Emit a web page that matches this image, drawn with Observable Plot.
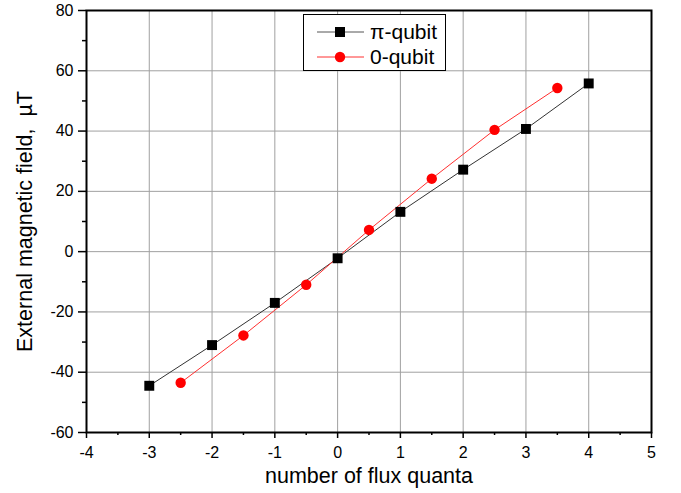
<!DOCTYPE html>
<html>
<head>
<meta charset="utf-8">
<script src="https://cdn.jsdelivr.net/npm/d3@7"></script>
<script src="https://cdn.jsdelivr.net/npm/@observablehq/plot@0.6"></script>
<style>
  html, body { margin: 0; padding: 0; background: white; }
  #wrap { position: relative; width: 681px; height: 493px; font-family: "Liberation Sans", Arial, sans-serif; }
  #legend { position: absolute; left: 303px; top: 14px; width: 143px; height: 57px; border: 1px solid #000; background: white; box-sizing: border-box; }
  #legend .row { position: absolute; left: 0; height: 24px; width: 141px; }
  #legend .row span { position: absolute; left: 66px; top: 0; font-size: 21px; line-height: 24px; color: #000; font-family: "Liberation Sans", Arial, sans-serif; white-space: nowrap; }
  #legend svg { position: absolute; left: 13px; top: 0; }
</style>
</head>
<body>
<div id="wrap"></div>
<script>
const piX = [-3, -2, -1, 0, 1, 2, 3, 4];
const piY = [-44.5, -31, -17, -2.2, 13.2, 27.2, 40.7, 55.8];
const zeroX = [-2.5, -1.5, -0.5, 0.5, 1.5, 2.5, 3.5];
const zeroY = [-43.5, -27.8, -11, 7.2, 24.2, 40.4, 54.3];
const seriesNames = ["π-qubit", "0-qubit"];
const xMajor = [-4, -3, -2, -1, 0, 1, 2, 3, 4, 5];
const xMinor = [-3.5, -2.5, -1.5, -0.5, 0.5, 1.5, 2.5, 3.5, 4.5];
const yMajor = [-60, -40, -20, 0, 20, 40, 60, 80];
const yMinor = [-50, -30, -10, 10, 30, 50, 70];
const xTitle = "number of flux quanta";
const yTitle = "External magnetic field,  µT";

const pi = piX.map((x, i) => ({x, y: piY[i]}));
const zero = zeroX.map((x, i) => ({x, y: zeroY[i]}));

const fmt = d => String(d);
const chart = Plot.plot({
  width: 681, height: 493,
  marginLeft: 86, marginRight: 30, marginTop: 10, marginBottom: 61,
  x: {domain: [-4, 5]},
  y: {domain: [-60, 80]},
  style: {fontFamily: "'Liberation Sans', Arial, sans-serif", fontSize: "16px", background: "white", color: "black", overflow: "visible"},
  marks: [
    Plot.gridX(xMajor, {stroke: "#a0a0a0", strokeOpacity: 1, strokeWidth: 1}),
    Plot.gridY(yMajor, {stroke: "#a0a0a0", strokeOpacity: 1, strokeWidth: 1}),
    Plot.axisX(xMajor, {tickSize: 6, tickPadding: 8, tickFormat: fmt, label: xTitle, labelAnchor: "center", labelArrow: "none", labelOffset: 50, strokeWidth: 1.5}),
    Plot.axisX(xMinor, {tickSize: 3, tickFormat: () => "", label: null, strokeWidth: 1.5}),
    Plot.axisY(yMajor, {tickSize: 8, tickPadding: 5, tickFormat: fmt, label: yTitle, labelAnchor: "center", labelArrow: "none", labelOffset: 70, strokeWidth: 1.5}),
    Plot.axisY(yMinor, {tickSize: 4, tickFormat: () => "", label: null, strokeWidth: 1.5}),
    Plot.frame({stroke: "black", strokeWidth: 2}),
    Plot.line(pi, {x: "x", y: "y", stroke: "#333", strokeWidth: 1}),
    Plot.line(zero, {x: "x", y: "y", stroke: "#ff3030", strokeWidth: 1}),
    Plot.dot(pi, {x: "x", y: "y", symbol: "square", fill: "black", stroke: "none", r: 5.6}),
    Plot.dot(zero, {x: "x", y: "y", symbol: "circle", fill: "#ff0000", stroke: "none", r: 5.2})
  ]
});
d3.select(chart).selectAll('[aria-label="x-axis label"], [aria-label="y-axis label"]')
  .style("font-size", "21.5px")
  .selectAll("text").style("font-size", "21.5px");
const wrap = document.getElementById("wrap");
wrap.appendChild(chart);

const legend = document.createElement("div");
legend.id = "legend";
const styles = [
  {stroke: "#555", fill: "black", shape: "square"},
  {stroke: "#ff3030", fill: "#ff0000", shape: "circle"}
];
seriesNames.forEach((name, i) => {
  const row = document.createElement("div");
  row.className = "row";
  row.style.top = (5 + i * 25) + "px";
  const s = styles[i];
  const marker = s.shape === "square"
    ? `<rect x="18" y="7" width="10" height="10" fill="${s.fill}"/>`
    : `<circle cx="23" cy="12" r="5.2" fill="${s.fill}"/>`;
  row.innerHTML = `<svg width="47" height="24"><line x1="0" x2="47" y1="12" y2="12" stroke="${s.stroke}" stroke-width="1"/>${marker}</svg><span>${name}</span>`;
  legend.appendChild(row);
});
wrap.appendChild(legend);
</script>
</body>
</html>
